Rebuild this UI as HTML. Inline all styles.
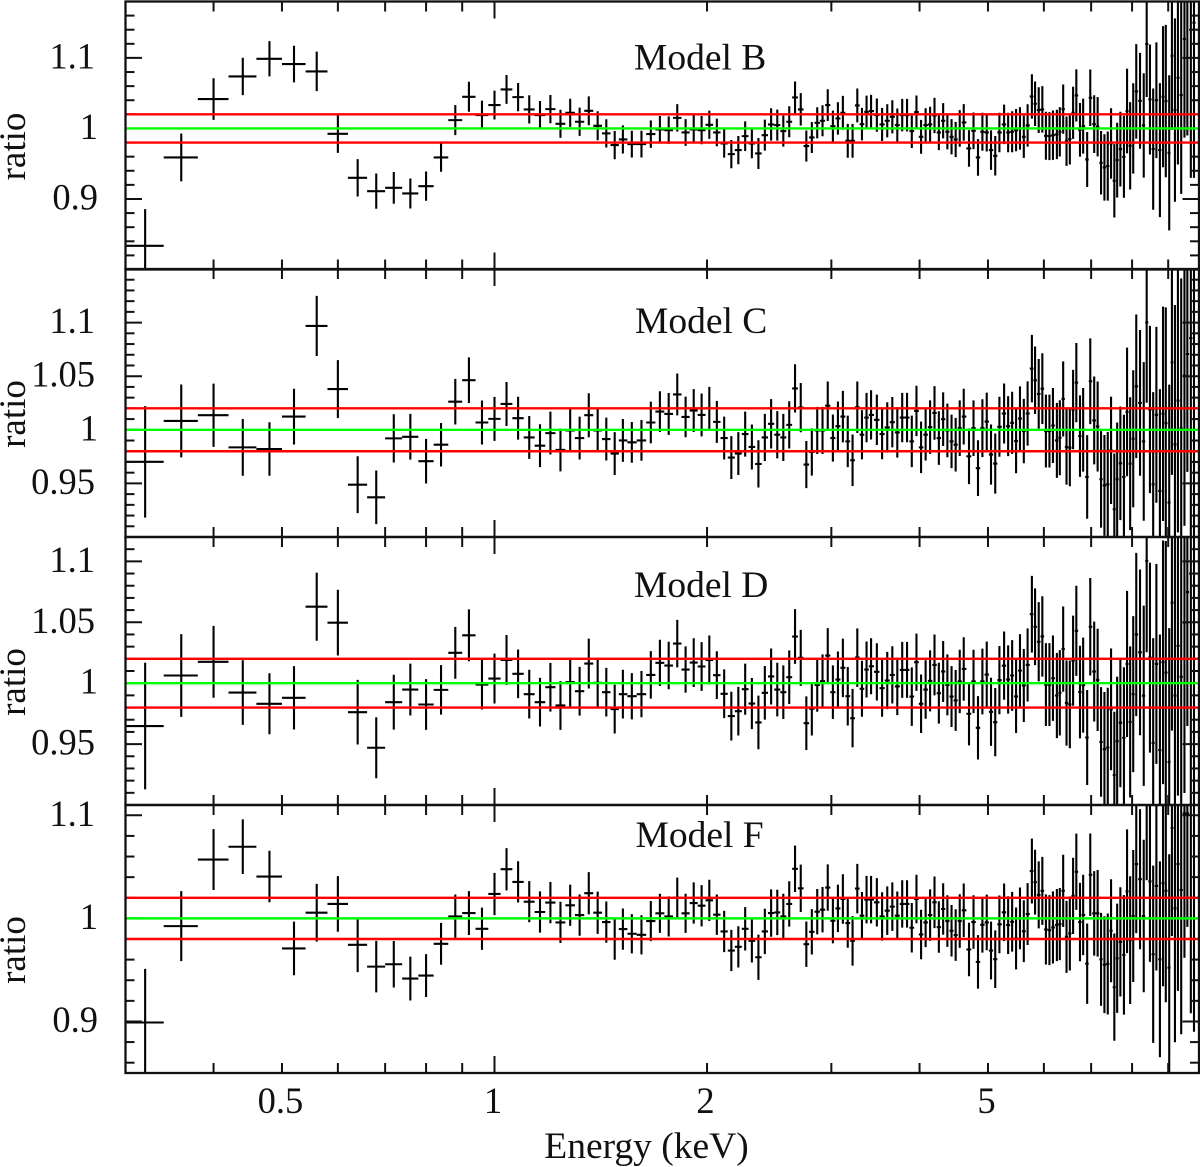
<!DOCTYPE html>
<html lang="en">
<head>
<meta charset="utf-8">
<title>Spectral ratio residuals for Models B, C, D and F</title>
<style>
html,body{margin:0;padding:0;background:#fff;}
svg{display:block;}
text{font-family:"Liberation Serif",serif;fill:#111;}
</style>
</head>
<body>
<svg id="chart" xmlns="http://www.w3.org/2000/svg" width="1200" height="1167" viewBox="0 0 1200 1167">
  <text x="646.5" y="1158" font-size="37.5" text-anchor="middle">Energy (keV)</text>
</svg>
<script>
/* Bin centres in keV */
var energies = [0.32,0.36,0.40,0.44,0.48,0.52,0.56,0.60,0.64,0.68,0.72,0.76,0.80,0.84,0.88,0.92,0.96,1.00,1.04,1.08,1.12,1.16,1.20,1.24,1.28,1.32,1.36,1.40,
1.44,1.48,1.52,
1.565,1.615,1.665,1.715,1.765,1.815,1.865,1.915,1.965,2.015,2.065,2.115,2.165,2.215,2.265,2.315,2.365,2.415,2.465,2.515,2.565,2.615,2.665,2.715,2.765,2.815,2.865,2.915,2.965,3.015,3.065,3.115,3.165,3.215,3.265,3.315,3.365,3.415,
3.48,3.54,3.60,3.66,3.72,3.78,3.84,3.90,3.96,4.02,4.08,4.14,4.20,4.26,4.32,4.38,4.44,4.50,4.56,4.62,
4.70,4.77,4.84,4.91,4.98,5.05,5.12,5.19,
5.27,5.34,5.41,5.48,5.55,5.62,5.69,5.77,5.83,5.90,5.97,6.04,6.11,6.18,6.26,6.32,6.39,6.46,6.53,6.60,6.67,6.75,6.82,6.91,6.98,7.07,7.15,7.23,7.31,7.39,7.47,7.55,7.62,7.70,7.79,7.87,7.95,8.03,8.11,8.21,8.31,8.39,8.48,8.57,8.66,8.76,8.85,8.93,9.03,9.11,9.20,9.29,9.39,9.49,9.58,9.69,9.79];

/* One-sigma ratio uncertainty per bin */
var ratioErrors = [.052,.034,.0295,.0265,.025,.026,.028,.027,.0265,.025,.0225,.0213,.0208,.0203,.0213,.0213,.0205,.0205,.0205,.02,.02,.02,.02,.02,.02,.02,.0205,.0205,
.02,.02,.02,
.019,.019,.0195,.019,.0195,.0195,.019,.02,.02,.02,.0196,.02,.02,.02,.021,.021,.022,.022,.023,.022,.022,.022,.0225,.023,.022,.022,.022,.022,.0225,.022,.023,.024,.024,.024,.024,.023,.023,.023,
.0235,.0235,.0235,.0235,.0235,.023,.023,.024,.0235,.024,.024,.025,.025,.025,.025,.025,.025,.025,.026,.026,
.026,.026,.026,.027,.027,.028,.028,.028,
.028,.028,.029,.03,.03,.03,.03,.0315,.0315,.0325,.033,.034,.034,.035,.035,.035,.035,.035,.036,.037,.037,.038,.039,.039,.04,.041,.042,.045,.047,.049,.05,.052,.053,.053,.058,.06,.062,.064,.067,.068,.074,.075,.078,.086,.082,.095,.1,.108,.11,.105,.13,.123,.14,.14,.11,.21,.22];

var ratioModelB = [.8336,.9589,1.0416,1.0738,1.0988,1.0913,1.0809,.9924,.93,.9111,.9158,.9078,.9182,.9589,1.0118,1.0449,1.0189,1.0331,1.0553,1.0444,1.027,1.0189,1.0274,1.0066,1.0222,1.0095,1.025,1.0038,
.993,.9764,.9844,
.9778,.9778,.992,.9986,.9976,1.015,.9943,.9986,.9976,1.0052,.9943,.9787,.9636,.9693,.9891,.9787,.9645,.9905,1.0057,1.0047,.9962,1.0095,1.044,1.027,.975,.9872,1.008,1.0109,1.0331,1.0033,1.0142,1.0222,.9825,.9825,1.0326,1.0061,1.0236,1.0246,
1.0189,1.0057,1.0109,1.0165,1.0047,1.0189,1.0189,.9962,1.0232,.9882,1.0047,1.0057,1.0184,.9943,1.0109,.9953,.9882,.9844,1.0,1.0085,
.9716,.9967,.9589,.9953,.9943,.9693,.9612,.9943,
1.0057,.9943,.9953,.9976,1.0,.9882,1.0043,1.0454,1.035,1.026,1.027,.9896,.9891,.9905,.9915,.9953,1.0274,.982,.9849,1.0222,1.0468,.998,1.0033,.956,1.0435,1.0061,1.0024,.9513,.9447,.9466,.9787,.9258,.9551,.9707,.9598,1.0246,.9754,1.0,1.0525,1.0392,1.0043,1.1196,1.0411,.9707,1.04,.9693,1.045,1.0388,.9655,1.103,1.026,1.0719,1.0473,1.127,1.1,1.14,1.15];

var ratioModelC = [.9701,1.0083,1.0136,.9836,.9821,1.0123,1.0969,1.038,.9488,.937,.992,.9935,.9707,.9861,1.0262,1.0463,1.0068,1.0102,1.0241,1.0108,.9929,.9852,.9969,.9812,.9994,.9923,1.0136,.9994,
.9914,.9778,.9901,
.9883,.9901,1.0068,1.017,1.0148,1.033,1.012,1.0179,1.0139,1.02,1.0074,.9923,.9741,.9778,.996,.984,.9682,.9929,1.0056,.9954,.9929,1.0046,1.0386,1.0207,.9676,.9793,.9994,.9994,1.0225,.9923,1.0034,1.0123,.9892,.9716,1.021,.9954,1.0114,1.0139,
1.0093,.996,1.0022,1.0071,.9975,1.0114,1.0114,.9892,1.0176,.9836,.9954,1.0025,1.0157,.9923,1.0099,.9994,.9892,.9861,1.0015,1.0123,
.9753,1.0015,.9642,1.0015,1.0077,.9769,.9685,1.0028,
1.0152,1.0034,1.0065,.9895,1.0105,.9988,1.0152,1.0571,1.0462,1.0335,1.0384,.9988,.9988,1.004,.9901,.9926,1.0288,.9839,.9833,1.0189,1.044,.9941,1.0,.956,1.0453,1.0087,1.0031,.9538,.9482,.9491,.9808,.9259,.9538,.9687,.956,1.0167,.9684,.9916,1.0406,1.0251,.9891,1.1002,1.0189,.9491,1.014,.9429,1.0149,1.0062,.9321,1.0629,.9864,1.0273,1.0012,1.0505,1.0707,1.0856,1.08];

var ratioModelD = [.9648,1.0063,1.0175,.9923,.9831,.988,1.0628,1.0497,.9762,.947,.9844,.9948,.9825,.9945,1.0249,1.0393,.9989,1.0038,1.0191,1.0077,.991,.9844,.9967,.9817,1.0008,.9934,1.0161,1.0003,
.9926,.9787,.991,
.9893,.991,1.0068,1.0167,1.0145,1.0325,1.0112,1.0169,1.0137,1.0191,1.0066,.9913,.973,.977,.9951,.9833,.9678,.9921,1.0055,.9948,.9926,1.0049,1.0383,1.0208,.9672,.979,.9986,1.0016,1.0227,.9926,1.003,1.0126,.9893,.9713,1.021,.9954,1.0112,1.0139,
1.0093,.9959,1.0022,1.0068,.9973,1.0109,1.0109,.989,1.0172,.9831,.9948,1.0019,1.015,.9918,1.0096,.9986,.989,.9858,1.0014,1.0117,
.9749,1.0014,.9634,1.0014,1.0071,.9765,.968,1.0025,
1.0144,1.003,1.0063,.9891,1.0103,.9981,1.015,1.0566,1.0463,1.034,1.0384,.9989,.9989,1.0041,.9899,.9921,1.028,.9837,.9826,1.0185,1.043,.9927,.9984,.9554,1.0463,1.0095,1.0027,.9518,.9458,.9472,.9785,.9246,.9524,.9676,.9551,1.0158,.9682,.991,1.04,1.0253,.9897,1.1004,1.021,.951,1.0158,.945,1.0171,1.0087,.9352,1.0661,.9897,1.0307,1.0052,1.0498,1.0748,1.09,1.08];

var ratioModelF = [.899,.9925,1.0571,1.0695,1.0406,.9708,1.0055,1.014,.9744,.9532,.9555,.9416,.9445,.9753,1.0019,1.0052,.9899,1.0237,1.0477,1.0354,1.0162,1.0062,1.0153,.9961,1.0127,1.0032,1.0244,1.0055,
.9964,.9799,.9896,
.9851,.9841,.9974,1.0049,1.0019,1.0201,1.0049,1.0149,1.0123,1.0175,1.0036,.9873,.9688,.9724,.9899,.9782,.9623,.9873,1.0052,1.0058,1.0019,1.014,1.0481,1.0292,.975,.987,1.0065,1.0084,1.0299,.9977,1.0097,1.0188,.9955,.9782,1.0289,1.0026,1.0182,1.0182,
1.0156,1.0019,1.0075,1.0114,1.0026,1.014,1.014,.9909,1.0188,.9844,.9961,1.0032,1.0156,.9916,1.0091,.9974,.988,.9838,.9974,1.0078,
.9698,.9964,.9578,.9938,.9961,.9688,.9604,.9942,
1.0059,.9935,.9967,.9805,1.0,.9876,1.0042,1.0459,1.0351,1.0228,1.0267,.9893,.9886,.9912,.9935,.9945,1.0267,.9821,.9854,1.0218,1.0452,.9964,1.0033,.9561,1.0423,1.0049,1.0049,.9603,.9551,.9558,.988,.9333,.9613,.9772,.9646,1.0263,.9789,1.0023,1.0527,1.038,1.0023,1.112,1.0358,.9652,1.0315,.9603,1.0341,1.0267,.9522,1.0878,1.0098,1.0527,1.0276,1.1018,1.1018,1.118,1.11];

/* Reference lines */
var referenceRed = [0.98, 1.02];
var referenceGreen = [1];

/* X-axis tick values */
var xMajorTicks = [1, 10];
var xMinorTicks = [0.4,0.5,0.6,0.7,0.8,0.9,2,3,4,5,6,7,8,9];
var xTickLabels = [0.5, 1, 2, 5];

/* Panel settings */
var panelNames = ['Model B', 'Model C', 'Model D', 'Model F'];
var panelSeries = [ratioModelB, ratioModelC, ratioModelD, ratioModelF];
var panelYMin = [0.8, 0.9, 0.9, 0.85];
var panelYMax = [1.18, 1.15, 1.12, 1.11];
var panelMajorStep = [0.1, 0.05, 0.05, 0.1];
var panelMinorStep = [0.02, 0.01, 0.01, 0.02];
var panelTickLabels = [['1.1','1','0.9'], ['1.1','1.05','1','0.95'], ['1.1','1.05','1','0.95'], ['1.1','1','0.9']];

var NS = 'http://www.w3.org/2000/svg';
var svg = document.getElementById('chart');
var plotLeft = 125.5, plotRight = 1199;
var panelTops = [1.5, 269, 537, 805];
var panelHeight = 268;
var INK = '#111';
var labelBaselines = [69.5, 333, 597, 847];
var labelLefts = [634, 635, 634, 635.5];

function xScale(e) {
  return 494.5 + 706 * Math.log10(e);
}
function makeYScale(i) {
  var top = panelTops[i], min = panelYMin[i], max = panelYMax[i];
  return function (v) { return top + panelHeight * (max - v) / (max - min); };
}
function addLine(parent, x1, y1, x2, y2, color, width) {
  var l = document.createElementNS(NS, 'line');
  l.setAttribute('x1', x1);
  l.setAttribute('y1', y1);
  l.setAttribute('x2', x2);
  l.setAttribute('y2', y2);
  l.setAttribute('stroke', color);
  l.setAttribute('stroke-width', width);
  parent.appendChild(l);
  return l;
}
function addText(parent, x, y, str, anchor, size) {
  var t = document.createElementNS(NS, 'text');
  t.setAttribute('x', x);
  t.setAttribute('y', y);
  t.setAttribute('text-anchor', anchor);
  t.setAttribute('font-size', size);
  t.textContent = str;
  parent.appendChild(t);
  return t;
}
function binEdges(i) {
  var e = energies, n = e.length;
  var lo = i > 0 ? (e[i] + e[i - 1]) / 2 : e[i] - (e[i + 1] - e[i]) / 2;
  var hi = i < n - 1 ? (e[i] + e[i + 1]) / 2 : e[i] + (e[i] - e[i - 1]) / 2;
  return [lo, hi];
}

var defs = document.createElementNS(NS, 'defs');
svg.appendChild(defs);

panelNames.forEach(function (name, p) {
  var slug = name.toLowerCase().replace(' ', '-');
  var y = makeYScale(p);
  var top = panelTops[p], bottom = top + panelHeight;
  var g = document.createElementNS(NS, 'g');
  
  
  svg.appendChild(g);

  var clip = document.createElementNS(NS, 'clipPath');
  clip.setAttribute('id', 'clip-' + p);
  var cr = document.createElementNS(NS, 'rect');
  cr.setAttribute('x', plotLeft);
  cr.setAttribute('y', top);
  cr.setAttribute('width', plotRight - plotLeft);
  cr.setAttribute('height', panelHeight);
  clip.appendChild(cr);
  defs.appendChild(clip);

  /* Data crosses */
  var series = document.createElementNS(NS, 'g');
  series.setAttribute('clip-path', 'url(#clip-' + p + ')');
  
  
  g.appendChild(series);
  var values = panelSeries[p];
  energies.forEach(function (e, i) {
    if (values[i] === undefined) return;
    var edges = binEdges(i);
    var cx = xScale(e), cy = y(values[i]);
    var up = y(values[i] + ratioErrors[i]), dn = y(values[i] - ratioErrors[i]);
    var path = document.createElementNS(NS, 'path');
    path.setAttribute('d', 'M' + xScale(edges[0]).toFixed(2) + ' ' + cy.toFixed(2) + 'H' + xScale(edges[1]).toFixed(2) + 'M' + cx.toFixed(2) + ' ' + up.toFixed(2) + 'V' + dn.toFixed(2));
    path.setAttribute('stroke', '#000');
    path.setAttribute('stroke-width', '2.1');
    path.setAttribute('fill', 'none');
    
    
    series.appendChild(path);
  });

  /* Y ticks */
  var nMinor = Math.round((panelYMax[p] - panelYMin[p]) / panelMinorStep[p]);
  var first = Math.ceil(panelYMin[p] / panelMinorStep[p] - 1e-6);
  var ratio = Math.round(panelMajorStep[p] / panelMinorStep[p]);
  for (var k = first; k <= first + nMinor; k++) {
    var v = k * panelMinorStep[p];
    if (v > panelYMax[p] + 1e-6) break;
    var len = k % ratio === 0 ? 16.5 : 9;
    var tl = addLine(g, plotLeft, y(v), plotLeft + len, y(v), INK, 2);
    
    
    var tr = addLine(g, plotRight, y(v), plotRight - len, y(v), INK, 2);
    
    
  }

  /* X ticks */
  xMinorTicks.forEach(function (e) {
    var a = addLine(g, xScale(e), bottom, xScale(e), bottom - 10, INK, 2);
    
    
    var b = addLine(g, xScale(e), top, xScale(e), top + 10, INK, 2);
    
    
  });
  xMajorTicks.forEach(function (e) {
    var a = addLine(g, xScale(e), bottom, xScale(e), bottom - 17, INK, 2);
    
    
    var b = addLine(g, xScale(e), top, xScale(e), top + 17, INK, 2);
    
    
  });

  /* Reference lines */
  referenceGreen.forEach(function (v) {
    var l = addLine(g, plotLeft, y(v), plotRight, y(v), '#00ff00', 2.4);
    
    
  });
  referenceRed.forEach(function (v) {
    var l = addLine(g, plotLeft, y(v), plotRight, y(v), '#ff0000', 2.4);
    
    
  });

  /* Frame */
  var frame = document.createElementNS(NS, 'rect');
  frame.setAttribute('x', plotLeft);
  frame.setAttribute('y', top);
  frame.setAttribute('width', plotRight - plotLeft);
  frame.setAttribute('height', panelHeight);
  frame.setAttribute('fill', 'none');
  frame.setAttribute('stroke', INK);
  frame.setAttribute('stroke-width', '2.3');
  
  
  g.appendChild(frame);

  /* Y tick labels */
  panelTickLabels[p].forEach(function (lab) {
    var ax = (lab === '1' || lab === '0.9') ? 98 : 95;
    var t = addText(g, ax, y(parseFloat(lab)) + 10.5, lab, 'end', 36.5);
    
    
  });

  /* Y axis title */
  var cy2 = top + panelHeight / 2 + 11;
  var yt = addText(g, 0, 0, 'ratio', 'middle', 37);
  yt.setAttribute('transform', 'translate(25 ' + cy2 + ') rotate(-90)');
  
  

  /* Panel label */
  var lab = addText(g, labelLefts[p], labelBaselines[p], name, 'start', 37.5);
  
  
});

/* X tick labels */
xTickLabels.forEach(function (e) {
  var t = addText(svg, xScale(e) - 1.5, 1113, String(e), 'middle', 36.5);
  
  
});
</script>
</body>
</html>
